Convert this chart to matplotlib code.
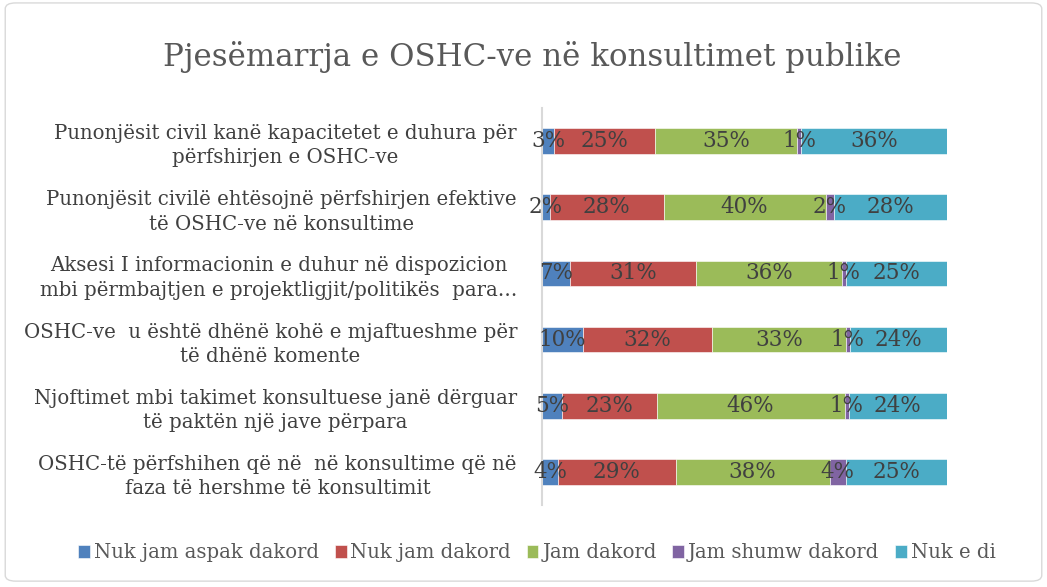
import matplotlib
matplotlib.use("Agg")
import matplotlib.pyplot as plt
import numpy as np
from matplotlib.patches import FancyBboxPatch

plt.rcParams['font.family'] = ['DejaVu Serif']

title = "Pjesëmarrja e OSHC-ve në konsultimet publike"
categories = [
    "Punonjësit civil kanë kapacitetet e duhura për\npërfshirjen e OSHC-ve",
    "Punonjësit civilë ehtësojnë përfshirjen efektive\ntë OSHC-ve në konsultime",
    "Aksesi I informacionin e duhur në dispozicion\nmbi përmbajtjen e projektligjit/politikës  para…",
    "OSHC-ve  u është dhënë kohë e mjaftueshme për\ntë dhënë komente",
    "Njoftimet mbi takimet konsultuese janë dërguar\ntë paktën një jave përpara",
    "OSHC-të përfshihen që në  në konsultime që në\nfaza të hershme të konsultimit",
]
series_names = ["Nuk jam aspak dakord", "Nuk jam dakord", "Jam dakord",
                "Jam shumw dakord", "Nuk e di"]
nuk_jam_aspak_dakord = [3, 2, 7, 10, 5, 4]
nuk_jam_dakord = [25, 28, 31, 32, 23, 29]
jam_dakord = [35, 40, 36, 33, 46, 38]
jam_shumw_dakord = [1, 2, 1, 1, 1, 4]
nuk_e_di = [36, 28, 25, 24, 24, 25]

colors = ["#4F81BD", "#C0504D", "#9BBB59", "#8064A2", "#4BACC6"]

series = [nuk_jam_aspak_dakord, nuk_jam_dakord, jam_dakord, jam_shumw_dakord, nuk_e_di]
vals = np.array(series, dtype=float)
totals = vals.sum(axis=0)
shares = vals / totals

fig = plt.figure(figsize=(10.47, 5.87), dpi=100)
fig.patches.append(FancyBboxPatch((0.005, 0.01), 0.99, 0.985, boxstyle="round,pad=0,rounding_size=0.01",
                                  transform=fig.transFigure, facecolor='white',
                                  edgecolor='#D9D9D9', linewidth=1.0, zorder=-10))
ax = fig.add_axes([542/1047, 1-505/587, 405/1047, 397/587])
ax.set_facecolor('none')

y = np.arange(len(categories))
left = np.zeros(len(categories))
for i, (name, s) in enumerate(zip(series_names, shares)):
    bars = ax.barh(y, s, left=left, height=0.39, color=colors[i], label=name,
                   edgecolor='white', linewidth=0.4)
    for j, b in enumerate(bars):
        cx = b.get_x() + b.get_width() / 2
        ax.text(cx, y[j], f"{int(vals[i][j])}%", ha='center', va='center',
                fontsize=15.5, color='#404040')
    left += s

ax.set_xlim(0, 1)
ax.set_ylim(len(categories) - 0.5, -0.5)
ax.set_yticks(y)
ax.set_yticklabels(categories, fontsize=14.2, color='#404040', linespacing=1.35)
for t in ax.get_yticklabels():
    t.set_multialignment('center')
ax.tick_params(axis='y', length=0, pad=18)
ax.set_xticks([])
for sp in ['top', 'right', 'bottom']:
    ax.spines[sp].set_visible(False)
ax.spines['left'].set_color('#D9D9D9')
ax.spines['left'].set_linewidth(1.5)

fig.text(532/1047, 1-57/587, title, ha='center', va='center', fontsize=22.2, color='#595959')

handles, labels = ax.get_legend_handles_labels()
leg = fig.legend(handles, labels, loc='center', bbox_to_anchor=(537/1047, 1-553/587), ncol=5,
                 frameon=False, fontsize=14.1, handlelength=0.6, handleheight=0.6,
                 handletextpad=0.2, columnspacing=0.8, labelcolor='#595959')

fig.savefig("out.png", dpi=100)
